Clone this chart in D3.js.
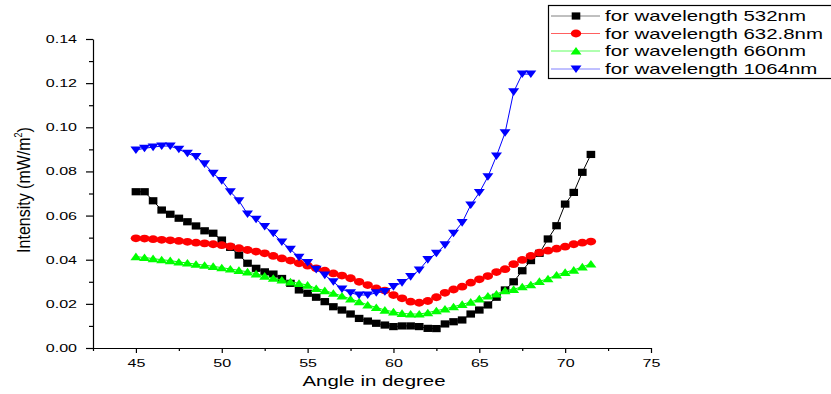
<!DOCTYPE html>
<html>
<head>
<meta charset="utf-8">
<script src="https://cdn.jsdelivr.net/npm/d3@7"></script>
<style>
  body { margin: 0; background: #fff; }
  text { font-family: "Liberation Sans", Arial, sans-serif; }
</style>
</head>
<body>
<div id="chart"></div>
<script>
// DATA
const angles = [45, 45.5, 46, 46.5, 47, 47.5, 48, 48.5, 49, 49.5, 50, 50.5, 51, 51.5, 52, 52.5,
  53, 53.5, 54, 54.5, 55, 55.5, 56, 56.5, 57, 57.5, 58, 58.5, 59, 59.5, 60, 60.5, 61, 61.5,
  62, 62.5, 63, 63.5, 64, 64.5, 65, 65.5, 66, 66.5, 67, 67.5, 68, 68.5, 69, 69.5, 70, 70.5, 71, 71.5]

const w532 = [0.0708, 0.0708, 0.0667, 0.0625, 0.0606, 0.0588, 0.0572, 0.0553, 0.0531, 0.0520,
  0.0489, 0.0456, 0.0421, 0.0384, 0.0361, 0.0345, 0.0335, 0.0315, 0.0293, 0.0263, 0.0248,
  0.0230, 0.0210, 0.0187, 0.0172, 0.0154, 0.0134, 0.0122, 0.0112, 0.0104, 0.0097, 0.0100,
  0.0100, 0.0097, 0.0089, 0.0088, 0.0109, 0.0119, 0.0127, 0.0154, 0.0172, 0.0195, 0.0230,
  0.0263, 0.0300, 0.0350, 0.0396, 0.0429, 0.0494, 0.0554, 0.0652, 0.0705, 0.0796, 0.0877]

const w632 = [0.0497, 0.0496, 0.0493, 0.0490, 0.0488, 0.0485, 0.0481, 0.0477, 0.0474, 0.0470,
  0.0466, 0.0460, 0.0452, 0.0444, 0.0437, 0.0429, 0.0417, 0.0406, 0.0396, 0.0384, 0.0373,
  0.0361, 0.0350, 0.0338, 0.0328, 0.0316, 0.0300, 0.0285, 0.0270, 0.0260, 0.0240, 0.0225,
  0.0210, 0.0205, 0.0213, 0.0230, 0.0250, 0.0265, 0.0278, 0.0296, 0.0311, 0.0326, 0.0344,
  0.0357, 0.0380, 0.0399, 0.0417, 0.0432, 0.0441, 0.0450, 0.0459, 0.0470, 0.0477, 0.0482]

const w660 = [0.0414, 0.0410, 0.0405, 0.0400, 0.0396, 0.0390, 0.0385, 0.0380, 0.0375, 0.0370,
  0.0364, 0.0358, 0.0352, 0.0345, 0.0336, 0.0326, 0.0316, 0.0308, 0.0300, 0.0293, 0.0285,
  0.0270, 0.0260, 0.0248, 0.0236, 0.0222, 0.0210, 0.0195, 0.0184, 0.0172, 0.0164, 0.0157,
  0.0154, 0.0154, 0.0160, 0.0169, 0.0177, 0.0187, 0.0198, 0.0208, 0.0223, 0.0236, 0.0245,
  0.0260, 0.0266, 0.0278, 0.0287, 0.0302, 0.0314, 0.0331, 0.0343, 0.0353, 0.0368, 0.0381]

// 1064nm stops at 68 degrees
const w1064 = [0.0897, 0.0905, 0.0910, 0.0915, 0.0915, 0.0900, 0.0882, 0.0867, 0.0834, 0.0791,
  0.0758, 0.0708, 0.0667, 0.0607, 0.0583, 0.0550, 0.0520, 0.0480, 0.0447, 0.0411, 0.0387,
  0.0356, 0.0330, 0.0300, 0.0267, 0.0250, 0.0240, 0.0240, 0.0250, 0.0255, 0.0278, 0.0296,
  0.0323, 0.0353, 0.0400, 0.0429, 0.0467, 0.0520, 0.0568, 0.0648, 0.0704, 0.0776, 0.0870,
  0.0975, 0.1160, 0.1241, 0.1241]

const xTicks = [45, 50, 55, 60, 65, 70, 75]
const xMinor = [42.5, 47.5, 52.5, 57.5, 62.5, 67.5, 72.5]
const yTicks = [0, 0.02, 0.04, 0.06, 0.08, 0.10, 0.12, 0.14]
const yMinor = [0.01, 0.03, 0.05, 0.07, 0.09, 0.11, 0.13]

const seriesNames = ["for wavelength 532nm", "for wavelength 632.8nm", "for wavelength 660nm", "for wavelength 1064nm"]
const seriesValues = [w532, w632, w660, w1064]
const lineColors = ["#000000", "#ff0000", "#00ff00", "#0000ff"]
const legendLineColors = ["#808080", "#ff6060", "#60ff60", "#8080ff"]
const symbols = ["square", "circle", "up", "down"]

const width = 831, height = 394
const sx = 1.46  // the original picture is stretched sideways, so is its text

const svg = d3.select("#chart").append("svg")
  .attr("width", width)
  .attr("height", height)

const xScale = d3.scaleLinear().domain([42.5, 75]).range([93, 651])
const yScale = d3.scaleLinear().domain([0, 0.14]).range([348, 39])

// AXES
const xAxisG = svg.append("g").attr("transform", `translate(0, ${yScale(0)})`)
xAxisG.call(d3.axisBottom(xScale).tickValues(xTicks).tickSize(5).tickSizeOuter(0))
xAxisG.selectAll(".tick text")
  .attr("y", 19).attr("dy", null)
  .attr("font-size", 11)
  .attr("font-family", "Liberation Sans, Arial, sans-serif")
  .attr("transform", `scale(${sx},1)`)
svg.append("g").attr("transform", `translate(0, ${yScale(0)})`)
  .call(d3.axisBottom(xScale).tickValues(xMinor).tickSize(3).tickFormat(""))
  .select(".domain").remove()

const yAxisG = svg.append("g").attr("transform", `translate(${xScale(42.5)}, 0)`)
yAxisG.call(d3.axisLeft(yScale).tickValues(yTicks).tickSize(7).tickSizeOuter(0).tickFormat(d3.format(".2f")))
yAxisG.selectAll(".tick text")
  .attr("x", -16 / sx)
  .attr("font-size", 11)
  .attr("font-family", "Liberation Sans, Arial, sans-serif")
  .attr("transform", `scale(${sx},1)`)
svg.append("g").attr("transform", `translate(${xScale(42.5)}, 0)`)
  .call(d3.axisLeft(yScale).tickValues(yMinor).tickSize(4).tickFormat(""))
  .select(".domain").remove()

svg.selectAll(".domain, .tick line").attr("stroke", "#000").attr("stroke-width", 1.2)

// axis titles
svg.append("text")
  .attr("transform", `translate(${(xScale(42.5) + xScale(75)) / 2 + 2}, 386) scale(${sx},1)`)
  .attr("text-anchor", "middle")
  .attr("font-size", 14)
  .text("Angle in degree")

const yLabel = svg.append("text")
  .attr("transform", "translate(30, 190) rotate(-90) scale(1,1.12)")
  .attr("text-anchor", "middle")
  .attr("font-size", 16)
yLabel.append("tspan").text("Intensity (mW/m")
yLabel.append("tspan").attr("font-size", 9).attr("dy", -7).text("2")
yLabel.append("tspan").attr("dy", 7).text(")")

// MARKERS
function drawSymbol(g, type, color) {
  if (type === "square") {
    g.append("rect").attr("x", -4.3).attr("y", -3.6).attr("width", 8.6).attr("height", 7.2).attr("fill", color)
  } else if (type === "circle") {
    g.append("ellipse").attr("rx", 5.2).attr("ry", 3.9).attr("fill", color)
  } else if (type === "up") {
    g.append("path").attr("d", "M-5.5,3.6L5.5,3.6L0,-4Z").attr("fill", color)
  } else {
    g.append("path").attr("d", "M-5.5,-3.6L5.5,-3.6L0,4Z").attr("fill", color)
  }
}

const line = d3.line().x(d => xScale(d[0])).y(d => yScale(d[1]))

seriesValues.forEach((vals, i) => {
  const pts = vals.map((v, j) => [angles[j], v])
  svg.append("path")
    .datum(pts)
    .attr("d", line)
    .attr("fill", "none")
    .attr("stroke", lineColors[i])
    .attr("stroke-width", 1)
  svg.append("g").selectAll("g")
    .data(pts)
    .join("g")
      .attr("transform", d => `translate(${xScale(d[0])}, ${yScale(d[1])})`)
      .each(function() { drawSymbol(d3.select(this), symbols[i], lineColors[i]) })
})

// LEGEND
const legend = svg.append("g")
legend.append("rect")
  .attr("x", 548.5).attr("y", 5.5)
  .attr("width", 300).attr("height", 73)
  .attr("fill", "#fff").attr("stroke", "#000").attr("stroke-width", 1.2)

const rowY = [16, 33.5, 51, 69]
seriesNames.forEach((name, i) => {
  const row = legend.append("g").attr("transform", `translate(0, ${rowY[i]})`)
  row.append("line").attr("x1", 551).attr("x2", 600).attr("y1", 0).attr("y2", 0)
    .attr("stroke", legendLineColors[i]).attr("stroke-width", 1)
  drawSymbol(row.append("g").attr("transform", "translate(576, 0)"), symbols[i], lineColors[i])
  row.append("text")
    .attr("transform", `translate(605, 5) scale(${sx},1)`)
    .attr("font-size", 14)
    .text(name)
})
</script>
</body>
</html>
